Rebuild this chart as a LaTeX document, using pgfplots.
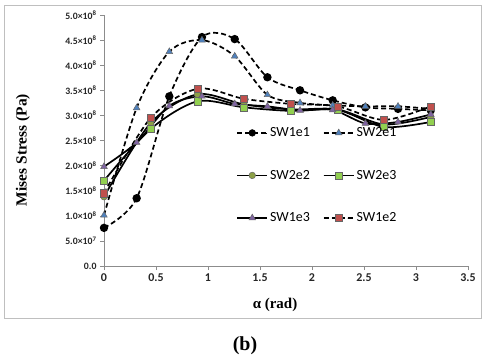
\documentclass[border=0pt]{standalone}
\usepackage{fontspec}
\setmainfont{Liberation Serif}
\newfontfamily\carlito{Carlito}
\usepackage{pgfplots}
\pgfplotsset{compat=1.18}
\definecolor{exblue}{RGB}{79,129,189}
\definecolor{exolive}{RGB}{140,160,70}
\definecolor{exgreen}{RGB}{146,208,80}
\definecolor{expurple}{RGB}{128,100,162}
\definecolor{exred}{RGB}{192,80,77}
\begin{document}
\begin{tikzpicture}[x=1bp,y=1bp]
\path[use as bounding box] (0,0) rectangle (482,362);
\draw[black!25, line width=0.8bp] (4.5,44) rectangle (481,357);
\begin{axis}[
  at={(104bp,96bp)}, anchor=south west, scale only axis,
  width=364bp, height=251bp,
  xmin=0, xmax=3.5, ymin=0, ymax=5,
  axis lines=left,
  axis line style={-, draw=black!45, line width=0.6bp},
  xtick={0,0.5,1,1.5,2,2.5,3,3.5},
  xticklabels={0,0.5,1,1.5,2,2.5,3,3.5},
  ytick={0,0.5,1,1.5,2,2.5,3,3.5,4,4.5,5},
  yticklabels={0.0,5.0×10\textsuperscript{7},1.0×10\textsuperscript{8},1.5×10\textsuperscript{8},2.0×10\textsuperscript{8},2.5×10\textsuperscript{8},3.0×10\textsuperscript{8},3.5×10\textsuperscript{8},4.0×10\textsuperscript{8},4.5×10\textsuperscript{8},5.0×10\textsuperscript{8}},
  x tick label style={font=\carlito\bfseries\fontsize{12}{14}\selectfont, text=black!85},
  y tick label style={font=\carlito\bfseries\fontsize{9.8}{11}\selectfont, text=black!85},
  tick align=outside, major tick length=4bp,
  tick style={draw=black!45, line width=0.6bp},
  clip=false,
  every axis plot/.append style={line width=1.7bp, black, smooth, tension=0.5},
  legend columns=2,
  legend style={at={(0.355,0.568)}, anchor=north west, draw=none, fill=none,
    font=\carlito\fontsize{14}{16}\selectfont, row sep=28bp,
    /tikz/every even column/.append style={column sep=11bp}},
  legend cell align=left,
  legend image code/.code={
    \draw[#1,mark=none] (0bp,0bp) -- (30bp,0bp);
    \draw[#1,mark repeat=2,mark phase=2,line width=0.6bp] plot coordinates {(0bp,0bp) (15bp,0bp) (30bp,0bp)};
  },
]
% SW1e1
\addplot[dash pattern=on 5bp off 3bp, mark=*, mark size=3.3bp, mark options={solid, fill=black, draw=black}] coordinates {
(0,0.76) (0.314,1.35) (0.628,3.38) (0.942,4.56) (1.257,4.52) (1.571,3.76) (1.885,3.50) (2.199,3.30) (2.513,3.16) (2.827,3.13) (3.142,3.10)};
\addlegendentry{SW1e1}
% SW2e1
\addplot[dash pattern=on 5bp off 3bp, mark=triangle*, mark size=3.8bp, mark options={solid, fill=exblue, draw=black!60, line width=0.5bp}] coordinates {
(0,1.01) (0.314,3.15) (0.628,4.27) (0.942,4.50) (1.257,4.18) (1.571,3.41) (1.885,3.25) (2.199,3.20) (2.513,3.18) (2.827,3.18) (3.142,3.13)};
\addlegendentry{SW2e1}
% SW2e2
\addplot[mark=*, mark size=3.3bp, mark options={solid, fill=exolive, draw=black!60, line width=0.5bp}] coordinates {
(0,1.38) (0.449,2.85) (0.898,3.42) (1.346,3.22) (1.795,3.12) (2.244,3.12) (2.693,2.82) (3.142,2.97)};
\addlegendentry{SW2e2}
% SW2e3
\addplot[mark=square*, mark size=3.6bp, mark options={solid, fill=exgreen, draw=black!60, line width=0.5bp}] coordinates {
(0,1.70) (0.449,2.73) (0.898,3.28) (1.346,3.16) (1.795,3.09) (2.244,3.11) (2.693,2.77) (3.142,2.87)};
\addlegendentry{SW2e3}
% SW1e3
\addplot[mark=triangle*, mark size=3.8bp, mark options={solid, fill=expurple, draw=black!60, line width=0.5bp}] coordinates {
(0,1.98) (0.314,2.46) (0.628,3.19) (0.942,3.38) (1.257,3.23) (1.571,3.18) (1.885,3.10) (2.199,3.11) (2.513,2.84) (2.827,2.87) (3.142,3.02)};
\addlegendentry{SW1e3}
% SW1e2
\addplot[dash pattern=on 5bp off 3bp, mark=square*, mark size=3.6bp, mark options={solid, fill=exred, draw=black!60, line width=0.5bp}] coordinates {
(0,1.45) (0.449,2.95) (0.898,3.53) (1.346,3.33) (1.795,3.23) (2.244,3.18) (2.693,2.91) (3.142,3.18)};
\addlegendentry{SW1e2}
\end{axis}
\node[font=\bfseries\fontsize{15.5}{18}\selectfont, rotate=90] at (23,212) {Mises Stress (Pa)};
\node[font=\bfseries\fontsize{15}{18}\selectfont] at (275,57) {α (rad)};
\node[font=\bfseries\fontsize{20}{24}\selectfont] at (245,16) {(b)};
\end{tikzpicture}
\end{document}
